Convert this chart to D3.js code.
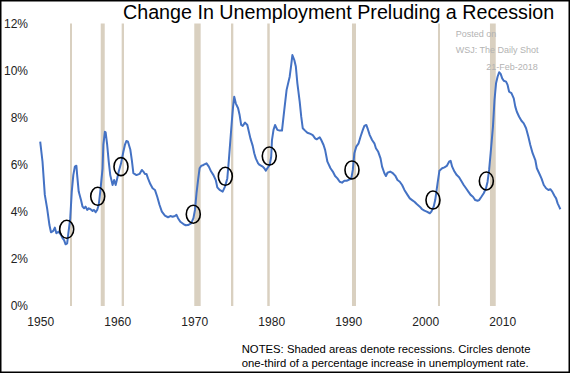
<!DOCTYPE html>
<html>
<head>
<meta charset="utf-8">
<script src="https://cdn.jsdelivr.net/npm/d3@7"></script>
<style>
  html, body { margin: 0; padding: 0; background: #ffffff; }
  svg { display: block; font-family: "Liberation Sans", Arial, sans-serif; }
</style>
</head>
<body>
<div id="chart"></div>
<script>
'use strict';

// ── Data ───────────────────────────────────────────────────────────────────
// unemployment rate, % — [decimal year, value]
const unemployment = [
  [1950.0, 6.98], [1950.3, 6.13], [1950.6, 4.72], [1950.9, 4.15], [1951.2, 3.44],
  [1951.4, 3.13], [1951.7, 3.19], [1951.9, 3.33], [1952.1, 3.09], [1952.4, 3.16],
  [1952.7, 3.02], [1952.9, 2.88], [1953.1, 2.80], [1953.3, 2.62], [1953.5, 2.66],
  [1953.6, 2.94], [1953.9, 3.72], [1954.1, 4.86], [1954.3, 5.56], [1954.5, 5.92],
  [1954.7, 5.96], [1954.8, 5.56], [1955.0, 4.86], [1955.3, 4.50], [1955.5, 4.22],
  [1955.7, 4.15], [1955.9, 4.22], [1956.1, 4.08], [1956.3, 4.15], [1956.5, 4.12],
  [1956.8, 4.04], [1957.0, 4.08], [1957.2, 3.98], [1957.4, 4.08], [1957.6, 4.29],
  [1957.8, 4.86], [1958.1, 5.85], [1958.2, 6.84], [1958.4, 7.40], [1958.5, 7.38],
  [1958.7, 6.84], [1958.9, 6.13], [1959.1, 5.56], [1959.4, 5.14], [1959.6, 5.35],
  [1959.8, 5.14], [1960.0, 5.42], [1960.2, 5.71], [1960.5, 6.06], [1960.8, 6.55],
  [1961.0, 6.84], [1961.2, 7.01], [1961.4, 6.98], [1961.7, 6.65], [1961.9, 6.20],
  [1962.1, 5.64], [1962.5, 5.56], [1962.9, 5.61], [1963.2, 5.78], [1963.4, 5.71],
  [1963.6, 5.61], [1963.8, 5.61], [1964.0, 5.42], [1964.3, 5.18], [1964.6, 5.00],
  [1964.9, 4.93], [1965.2, 4.64], [1965.5, 4.29], [1965.8, 4.01], [1966.2, 3.84],
  [1966.6, 3.77], [1966.9, 3.82], [1967.2, 3.79], [1967.5, 3.82], [1967.7, 3.87],
  [1967.9, 3.73], [1968.2, 3.58], [1968.6, 3.48], [1968.9, 3.43], [1969.2, 3.44],
  [1969.6, 3.51], [1969.9, 3.73], [1970.1, 4.08], [1970.3, 4.79], [1970.5, 5.35],
  [1970.7, 5.85], [1970.9, 5.95], [1971.2, 5.99], [1971.6, 6.06], [1971.9, 5.92],
  [1972.2, 5.71], [1972.5, 5.56], [1972.8, 5.35], [1973.0, 5.04], [1973.3, 4.93],
  [1973.7, 4.86], [1974.0, 5.07], [1974.3, 5.42], [1974.5, 6.20], [1974.7, 7.05],
  [1974.9, 7.90], [1975.05, 8.47], [1975.2, 8.89], [1975.4, 8.61], [1975.7, 8.40],
  [1975.9, 8.11], [1976.1, 7.69], [1976.3, 7.65], [1976.6, 7.79], [1976.9, 7.69],
  [1977.1, 7.40], [1977.3, 7.12], [1977.6, 6.80], [1977.8, 6.49], [1978.0, 6.27],
  [1978.3, 6.06], [1978.5, 5.99], [1978.9, 5.92], [1979.1, 5.85], [1979.3, 5.75],
  [1979.5, 5.85], [1979.8, 5.99], [1980.0, 6.34], [1980.1, 7.05], [1980.3, 7.48],
  [1980.5, 7.69], [1980.8, 7.48], [1981.1, 7.45], [1981.4, 7.45], [1981.7, 8.33],
  [1982.0, 9.18], [1982.4, 9.74], [1982.6, 10.24], [1982.75, 10.66], [1983.0, 10.45],
  [1983.2, 10.17], [1983.4, 9.46], [1983.7, 8.68], [1983.9, 8.04], [1984.1, 7.55],
  [1984.4, 7.45], [1984.7, 7.36], [1985.1, 7.31], [1985.4, 7.26], [1985.7, 7.12],
  [1985.9, 7.08], [1986.3, 7.17], [1986.5, 7.05], [1986.8, 6.84], [1987.0, 6.63],
  [1987.3, 6.13], [1987.7, 5.85], [1988.0, 5.71], [1988.3, 5.52], [1988.6, 5.42],
  [1988.9, 5.28], [1989.2, 5.24], [1989.5, 5.32], [1989.8, 5.32], [1990.2, 5.38],
  [1990.4, 5.42], [1990.6, 5.78], [1990.8, 6.49], [1991.05, 6.77], [1991.35, 6.91],
  [1991.6, 7.19], [1991.9, 7.48], [1992.1, 7.65], [1992.35, 7.69], [1992.55, 7.51],
  [1992.8, 7.26], [1993.1, 7.05], [1993.4, 6.91], [1993.6, 6.70], [1993.9, 6.55],
  [1994.2, 6.27], [1994.4, 5.92], [1994.7, 5.64], [1994.9, 5.52], [1995.1, 5.66],
  [1995.45, 5.71], [1995.8, 5.64], [1996.1, 5.54], [1996.4, 5.35], [1996.7, 5.28],
  [1997.0, 5.14], [1997.3, 4.93], [1997.7, 4.72], [1998.0, 4.57], [1998.3, 4.50],
  [1998.6, 4.43], [1998.9, 4.33], [1999.3, 4.22], [1999.6, 4.11], [1999.9, 4.05],
  [2000.2, 4.01], [2000.6, 3.94], [2000.8, 4.01], [2001.1, 4.22], [2001.3, 4.50],
  [2001.6, 5.20], [2001.85, 5.75], [2002.2, 5.85], [2002.5, 5.89], [2002.8, 5.95],
  [2003.1, 6.13], [2003.3, 6.17], [2003.5, 5.92], [2003.8, 5.71], [2004.1, 5.56],
  [2004.4, 5.47], [2004.75, 5.28], [2005.0, 5.14], [2005.3, 5.00], [2005.6, 4.86],
  [2005.9, 4.72], [2006.2, 4.64], [2006.5, 4.50], [2006.8, 4.47], [2007.0, 4.50],
  [2007.3, 4.64], [2007.6, 4.79], [2007.9, 5.00], [2008.1, 5.28], [2008.3, 5.78],
  [2008.5, 6.49], [2008.8, 7.62], [2009.0, 8.75], [2009.2, 9.46], [2009.4, 9.74],
  [2009.6, 9.93], [2009.8, 9.86], [2010.0, 9.67], [2010.2, 9.57], [2010.5, 9.53],
  [2010.7, 9.39], [2010.9, 9.10], [2011.2, 9.04], [2011.5, 8.82], [2011.7, 8.47],
  [2011.9, 8.25], [2012.2, 8.04], [2012.5, 7.87], [2012.8, 7.76], [2013.1, 7.55],
  [2013.4, 7.19], [2013.65, 6.84], [2013.95, 6.49], [2014.3, 6.20], [2014.5, 5.85],
  [2014.8, 5.64], [2015.1, 5.42], [2015.4, 5.14], [2015.7, 5.00], [2016.0, 4.93],
  [2016.25, 4.96], [2016.5, 4.86], [2016.8, 4.67], [2017.0, 4.57], [2017.2, 4.36],
  [2017.4, 4.22], [2017.55, 4.11],
];

// shaded recessions — [start, end] in decimal years
const recessions = [
  [1953.87, 1954.13], [1957.86, 1958.38], [1960.58, 1960.88],
  [1970.01, 1970.84], [1974.78, 1975.08], [1979.49, 1979.81],
  [1990.49, 1991.01], [2001.66, 2001.92], [2008.41, 2009.16],
];

// circled points — [decimal year, value]
const circled = [
  [1953.44, 3.26], [1957.47, 4.66], [1960.49, 5.92],
  [1969.88, 3.90], [1974.04, 5.51], [1979.75, 6.37],
  [1990.49, 5.78], [2001.01, 4.50], [2007.94, 5.31],
];

const xTicks = [1950, 1960, 1970, 1980, 1990, 2000, 2010];
const yTicks = [0, 2, 4, 6, 8, 10, 12];

const TITLE = 'Change In Unemployment Preluding a Recession';
const SOURCE = ['Posted on', 'WSJ: The Daily Shot', '21-Feb-2018'];
const NOTES = [
  'NOTES: Shaded areas denote recessions. Circles denote',
  'one-third of a percentage increase in unemployment rate.',
];

// ── Layout ─────────────────────────────────────────────────────────────────
const W = 571, H = 374;
const FONT = '"Liberation Sans", Arial, sans-serif';

const x = d3.scaleLinear().domain([1950, 2018]).range([40.2, 40.2 + 68 * 7.7]);
const y = d3.scaleLinear().domain([0, 12]).range([306, 23.5]);

const svg = d3.select('#chart')
  .append('svg')
  .attr('width', W)
  .attr('height', H)
  .attr('viewBox', `0 0 ${W} ${H}`);

// frame
svg.append('rect')
  .attr('x', 0.75).attr('y', 0.75)
  .attr('width', 568.5).attr('height', 371.5)
  .attr('fill', '#ffffff')
  .attr('stroke', '#000000')
  .attr('stroke-width', 1.5);

// ── Recession bars ─────────────────────────────────────────────────────────
svg.append('g')
  .selectAll('rect')
  .data(recessions)
  .join('rect')
  .attr('x', d => x(d[0]))
  .attr('y', y(12))
  .attr('width', d => x(d[1]) - x(d[0]))
  .attr('height', y(0) - y(12))
  .attr('fill', '#d9d0c0');

// ── Axes (labels only) ─────────────────────────────────────────────────────
const yAxis = svg.append('g')
  .attr('transform', 'translate(28,0)')
  .call(d3.axisLeft(y).tickValues(yTicks).tickSize(0).tickPadding(0)
    .tickFormat(d => d + '%'));
yAxis.select('.domain').remove();
yAxis.selectAll('text')
  .attr('font-family', FONT)
  .attr('font-size', '12px')
  .attr('fill', '#222222');

const xAxis = svg.append('g')
  .attr('transform', 'translate(0,306)')
  .call(d3.axisBottom(x).tickValues(xTicks).tickSize(0).tickPadding(11)
    .tickFormat(d3.format('d')));
xAxis.select('.domain').remove();
xAxis.selectAll('text')
  .attr('font-family', FONT)
  .attr('font-size', '12px')
  .attr('fill', '#222222');

// ── Source watermark ───────────────────────────────────────────────────────
svg.append('g')
  .selectAll('text')
  .data(SOURCE)
  .join('text')
  .attr('x', (d, i) => i === 2 ? 537.7 : 455.7)
  .attr('y', (d, i) => 37 + i * 16.3)
  .attr('text-anchor', (d, i) => i === 2 ? 'end' : 'start')
  .attr('font-family', FONT)
  .attr('font-size', '9px')
  .attr('fill', '#b3b3b3')
  .text(d => d);

// ── Line ───────────────────────────────────────────────────────────────────
const line = d3.line()
  .x(d => x(d[0]))
  .y(d => y(d[1]));

svg.append('path')
  .datum(unemployment)
  .attr('fill', 'none')
  .attr('stroke', '#4472c4')
  .attr('stroke-width', 2)
  .attr('stroke-linejoin', 'round')
  .attr('d', line);

// ── Circles ────────────────────────────────────────────────────────────────
svg.append('g')
  .selectAll('ellipse')
  .data(circled)
  .join('ellipse')
  .attr('cx', d => x(d[0]))
  .attr('cy', d => y(d[1]))
  .attr('rx', 7)
  .attr('ry', 9)
  .attr('fill', 'none')
  .attr('stroke', '#000000')
  .attr('stroke-width', 1.6);

// ── Title & notes ──────────────────────────────────────────────────────────
svg.append('text')
  .attr('x', 123)
  .attr('y', 18.5)
  .attr('font-family', FONT)
  .attr('font-size', '19.7px')
  .attr('fill', '#000000')
  .text(TITLE);

svg.append('g')
  .selectAll('text')
  .data(NOTES)
  .join('text')
  .attr('x', 241.7)
  .attr('y', (d, i) => 353 + i * 13.5)
  .attr('font-family', FONT)
  .attr('font-size', '11.3px')
  .attr('fill', '#000000')
  .text(d => d);
</script>
</body>
</html>
